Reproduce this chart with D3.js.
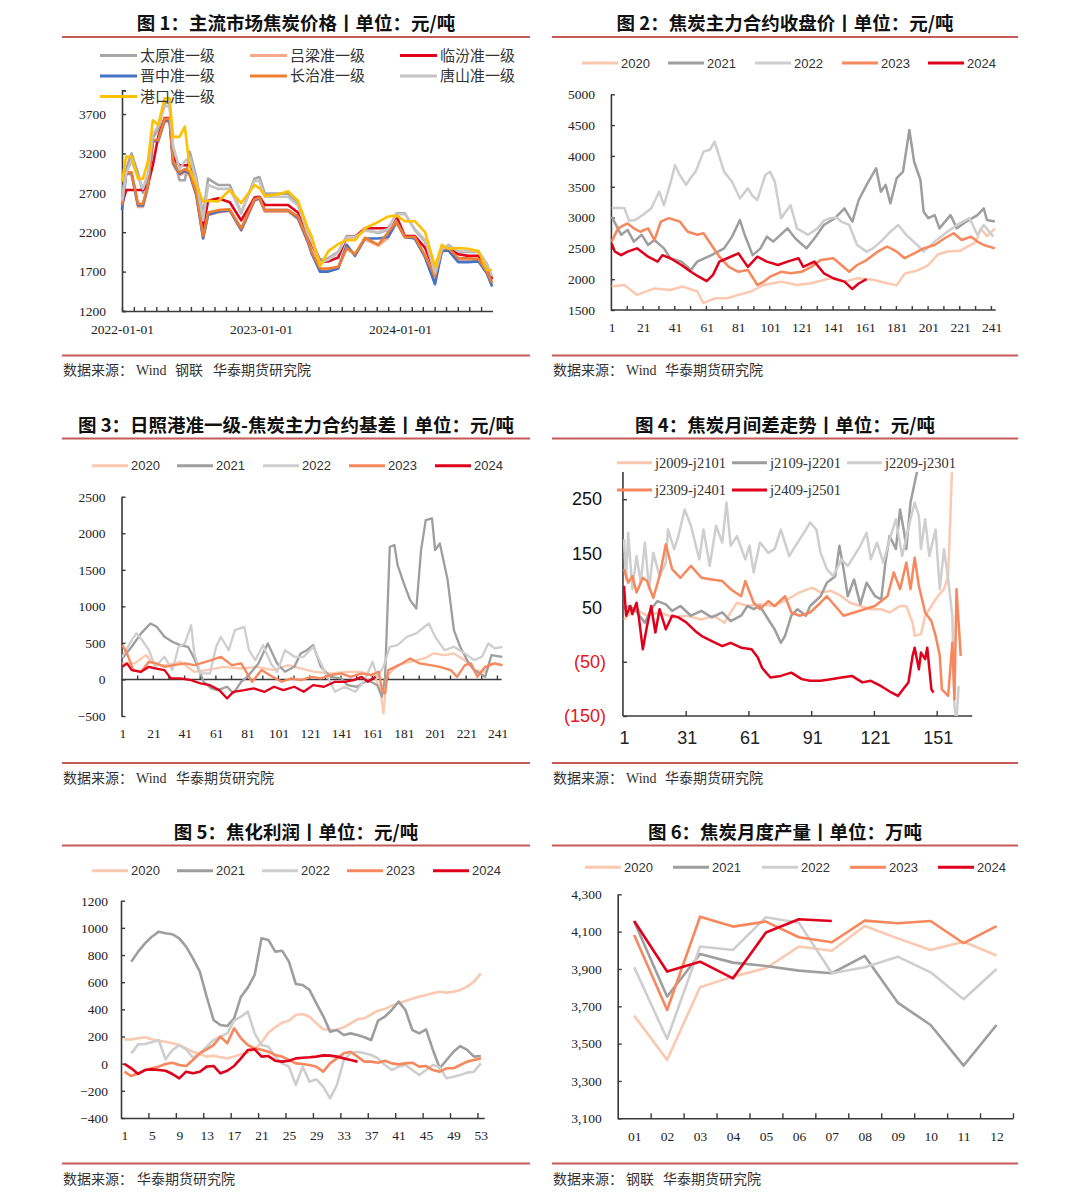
<!DOCTYPE html>
<html>
<head>
<meta charset="utf-8">
<script src="https://cdn.jsdelivr.net/npm/d3@7"></script>
<style>
body { margin: 0; background: #fff; }
svg { display: block; }
</style>
</head>
<body>
<svg id="chart" width="1080" height="1195"></svg>
<script>
// ---------- 图1 主流市场焦炭价格 ----------
const p1Dates = ["2022-01-01","2022-01-12","2022-01-26","2022-02-12","2022-02-25","2022-03-10","2022-03-23","2022-04-06","2022-04-23","2022-05-06",
  "2022-05-15","2022-06-01","2022-06-15","2022-06-28","2022-07-15","2022-08-02","2022-08-15","2022-09-10","2022-10-11","2022-11-10",
  "2022-12-15","2022-12-28","2023-01-11","2023-02-15","2023-03-13","2023-04-08","2023-05-04","2023-05-14","2023-06-05","2023-06-27",
  "2023-07-23","2023-08-14","2023-09-05","2023-10-01","2023-11-05","2023-12-01","2023-12-23","2024-01-14","2024-02-09","2024-03-07",
  "2024-04-02","2024-04-20","2024-05-07","2024-06-02","2024-06-28","2024-07-25","2024-08-16","2024-08-30"]
const p1Names = ["太原准一级","吕梁准一级","临汾准一级","晋中准一级","长治准一级","唐山准一级","港口准一级"]
const p1Taiyuan = [2650,3000,3200,2950,2700,2900,3400,3500,3840,3840, 3200,2860,2860,3220,2900,2420,2880,2800,2800,2440,
  2880,2900, 2690,2690,2690,2560,2200,2100,1850,1870, 1950,2150,2150,2230,2190,2230,2440,2440,2230,2080, 1640,1950,2040,1950,1950,1950,1800,1620]
const p1Lvliang = [2500,2940,2940,2520,2520,2770,3350,3350,3600,3600, 3060,2920,2960,2920,2660,2130,2420,2450,2470,2220,
  2600,2620, 2460,2460,2460,2370,2070,1940,1720,1720, 1760,1990,1920,2110,2030,2130,2320,2130,2130,1900, 1620,1970,1990,1850,1850,1840,1690,1540]
const p1Linfen = [2550,2735,2735,2735,2735,2800,3050,3410,3650,3650, 3150,3050,3050,3050,2800,2250,2600,2630,2580,2350,
  2640,2650, 2545,2545,2545,2450,2150,2050,1830,1830, 1880,2140,2140,2250,2250,2250,2400,2150,2150,2000, 1700,1960,2000,1920,1900,1900,1760,1600]
const p1Jinzhong = [2480,2950,2950,2540,2540,2780,3360,3360,3620,3620, 3080,2940,2980,2940,2680,2120,2420,2460,2480,2230,
  2610,2630, 2480,2480,2480,2380,2080,1930,1700,1700, 1740,2040,1900,2120,2120,2140,2330,2140,2120,1880, 1540,1960,1970,1820,1820,1830,1680,1510]
const p1Changzhi = [2550,2960,2960,2560,2560,2800,3370,3370,3640,3640, 3100,2960,3000,2960,2700,2150,2450,2480,2490,2250,
  2620,2640, 2480,2480,2480,2400,2100,1950,1740,1740, 1760,2000,1920,2130,2040,2200,2335,2140,2140,1900, 1640,1980,2000,1870,1870,1860,1700,1560]
const p1Tangshan = [2600,2950,3100,2900,2750,2950,3450,3550,3800,3800, 3300,3000,3100,3150,2850,2350,2800,2750,2750,2450,
  2850,2850, 2650,2650,2650,2540,2180,2080,1820,1850, 1940,2140,2140,2220,2200,2240,2430,2430,2240,2100, 1680,1990,2030,1960,1960,1960,1790,1640]
const p1Gangkou = [2840,3160,3160,2880,2880,3100,3620,3560,3900,3900, 3410,3410,3540,3000,2800,2590,2600,2590,2735,2570,
  2800,2760, 2660,2680,2720,2600,2250,2150,1770,1960, 2050,2100,2100,2250,2330,2400,2410,2340,2340,2200, 1760,2040,1990,2000,1990,1960,1720,1720]
const p1YTicks = [1200,1700,2200,2700,3200,3700]
const p1XLabels = ["2022-01-01","2023-01-01","2024-01-01"]

// ---------- 年份系列（图2/3/5/6） ----------
const years = ["2020","2021","2022","2023","2024"]

// 图2 焦炭主力合约收盘价 [交易日序号, 价格]
const p2_2020 = [[1,1880],[9,1905],[17,1745],[28,1850],[38,1825],[46,1880],[55,1800],[59,1610],[66,1690],[74,1690],[81,1745],[89,1800],[97,1905],[108,1960],[118,1905],[127,1935],[139,2015],[148,1960],[156,2015],[166,1990],[175,1935],[181,1900],[186,2090],[194,2140],[201,2230],[207,2400],[213,2450],[221,2460],[228,2560],[231,2600],[234,2820],[238,2700],[243,2820]]
const p2_2021 = [[1,3015],[7,2720],[11,2800],[15,2610],[20,2720],[24,2555],[28,2635],[34,2500],[38,2340],[45,2285],[51,2150],[55,2285],[64,2390],[72,2500],[77,2690],[82,2960],[85,2720],[90,2390],[95,2500],[99,2690],[103,2610],[112,2825],[117,2660],[124,2500],[129,2660],[135,2880],[142,2990],[148,3150],[153,2935],[157,3285],[162,3530],[168,3800],[171,3420],[174,3530],[177,3230],[181,3640],[185,3745],[189,4420],[192,3905],[196,3610],[198,3095],[201,2990],[205,3040],[208,2825],[215,3040],[219,2825],[225,2935],[232,3040],[236,3150],[238,2960],[243,2935]]
const p2_2022 = [[1,3150],[5,3160],[9,3150],[12,2950],[16,2960],[21,3050],[26,3150],[31,3420],[34,3200],[38,3550],[41,3850],[44,3690],[48,3530],[51,3650],[54,3745],[59,4070],[63,4100],[66,4230],[69,3990],[72,3745],[77,3580],[82,3310],[87,3475],[90,3350],[93,3285],[98,3690],[101,3745],[104,3580],[108,2990],[111,3100],[114,3200],[118,2825],[125,2720],[131,2825],[135,2950],[139,2990],[143,3000],[146,2935],[151,2880],[156,2555],[162,2447],[166,2500],[171,2610],[177,2770],[182,2880],[187,2720],[194,2555],[198,2447],[205,2610],[213,2770],[219,2880],[227,2990],[232,2720],[236,2880],[242,2690]]
const p2_2023 = [[1,2610],[5,2825],[11,2905],[15,2825],[19,2770],[24,2825],[28,2635],[32,2935],[37,2990],[44,2935],[49,2770],[55,2720],[59,2745],[64,2555],[69,2365],[75,2200],[81,2120],[87,2150],[93,1905],[97,1960],[101,2040],[108,2120],[114,2095],[121,2120],[127,2200],[133,2310],[141,2340],[146,2230],[151,2120],[156,2230],[162,2310],[169,2447],[175,2530],[181,2447],[186,2340],[192,2420],[198,2500],[205,2555],[211,2660],[217,2745],[222,2635],[228,2690],[232,2610],[236,2555],[243,2500]]
const p2_2024 = [[1,2580],[3,2447],[7,2390],[11,2447],[17,2500],[24,2365],[30,2285],[33,2390],[38,2340],[45,2230],[51,2120],[56,2040],[61,1970],[65,2070],[69,2285],[74,2340],[81,2420],[87,2200],[93,2365],[99,2285],[106,2230],[112,2285],[119,2340],[122,2200],[129,2285],[135,2095],[141,2015],[148,1960],[153,1840],[157,1930],[162,2000]]
const p2YTicks = [1500,2000,2500,3000,3500,4000,4500,5000]

// 图3 日照港准一级-焦炭主力合约基差
const p3_2020 = [[1,219],[9,219],[16,333],[22,196],[30,196],[38,242],[47,105],[55,128],[66,173],[77,150],[87,173],[98,128],[107,196],[115,150],[124,105],[134,82],[145,105],[153,105],[162,59],[166,-146],[168,-465],[170,36],[177,196],[185,242],[194,287],[200,356],[207,333],[213,356],[220,264],[226,128],[233,105],[237,219],[244,196]]
const p3_2021 = [[1,287],[7,447],[13,630],[19,766],[23,720],[28,584],[33,515],[38,470],[43,447],[47,287],[50,128],[53,-32],[58,-123],[62,-146],[68,-100],[72,-190],[77,-32],[81,36],[88,219],[94,492],[100,219],[105,105],[111,173],[115,356],[119,400],[123,470],[128,173],[134,36],[141,14],[145,-78],[151,-100],[158,-9],[164,-78],[167,-237],[169,36],[172,1815],[175,1838],[177,1564],[181,1313],[185,1085],[189,971],[192,1769],[195,2180],[199,2202],[201,1769],[204,1860],[209,1359],[213,675],[217,447],[222,242],[226,128],[233,36],[237,333],[244,310]]
const p3_2022 = [[1,310],[7,538],[10,630],[13,560],[18,400],[22,173],[28,310],[33,128],[37,447],[41,492],[45,743],[47,356],[51,82],[57,82],[61,447],[64,584],[69,400],[73,675],[79,720],[82,400],[86,264],[91,470],[96,219],[100,105],[105,400],[111,310],[117,310],[123,447],[130,128],[137,-169],[143,-100],[150,-169],[156,-9],[161,242],[164,36],[168,173],[172,447],[177,470],[183,584],[189,630],[194,720],[197,766],[201,584],[207,400],[213,447],[220,356],[226,264],[231,310],[235,492],[239,424],[244,447]]
const p3_2023 = [[1,470],[4,356],[8,128],[13,105],[18,242],[23,219],[28,173],[34,196],[41,219],[47,196],[51,219],[58,264],[64,310],[71,196],[77,219],[84,-32],[90,128],[97,36],[103,-32],[109,14],[115,-9],[122,36],[128,14],[134,59],[141,82],[147,36],[154,82],[160,59],[165,105],[167,-146],[169,-190],[171,128],[178,196],[185,287],[191,219],[198,196],[204,173],[211,128],[215,36],[220,196],[224,219],[228,36],[233,173],[239,219],[244,196]]
const p3_2024 = [[1,173],[4,219],[7,128],[13,105],[18,173],[22,150],[28,128],[32,14],[38,14],[45,-9],[51,-55],[57,-78],[63,-146],[68,-260],[72,-169],[79,-146],[85,-123],[92,-169],[98,-100],[104,-146],[111,-100],[117,-169],[123,-78],[130,-100],[137,-32],[143,-32],[149,-9],[154,36],[158,-32],[163,36]]
const p3YTicks = [-500,0,500,1000,1500,2000,2500]

// 图4 焦炭月间差走势
const p4Names = ["j2009-j2101","j2109-j2201","j2209-j2301","j2309-j2401","j2409-j2501"]
const p4_2009 = [[1,28],[6,47],[12,35],[18,41],[25,32],[31,35],[38,28],[44,35],[49,22],[52,41],[55,59],[60,53],[66,56],[73,53],[79,65],[85,78],[91,87],[95,78],[100,81],[105,71],[109,59],[114,53],[119,47],[124,47],[128,41],[133,53],[136,53],[139,22],[140,-2],[143,1],[145,35],[148,53],[151,71],[154,84],[156,108],[158,320]]
const p4_2109 = [[1,47],[3,53],[6,47],[11,22],[14,47],[17,62],[21,56],[24,44],[28,53],[33,35],[38,44],[43,32],[48,41],[52,25],[57,35],[60,53],[63,47],[66,53],[70,28],[73,10],[76,-15],[78,-2],[81,35],[84,47],[88,35],[90,53],[95,71],[98,96],[102,108],[104,164],[106,121],[108,71],[111,102],[114,56],[117,96],[121,71],[124,65],[126,133],[128,182],[131,158],[133,231],[135,188],[136,158],[138,244],[141,299],[142,330]]
const p4_2209 = [[1,176],[2,102],[3,188],[5,84],[7,145],[9,96],[11,170],[13,84],[15,151],[18,108],[21,133],[22,194],[25,158],[27,182],[30,231],[33,201],[37,139],[39,194],[42,127],[45,201],[48,170],[50,244],[52,164],[55,182],[59,139],[61,164],[63,115],[66,170],[70,151],[73,158],[76,194],[80,145],[82,158],[87,188],[90,207],[93,194],[95,151],[98,121],[101,108],[105,139],[108,127],[111,145],[114,164],[117,188],[119,139],[122,170],[125,133],[128,176],[131,213],[134,145],[138,213],[140,244],[142,219],[143,158],[145,213],[147,145],[150,194],[152,84],[154,158],[156,102],[158,35],[159,-131],[160,-160],[161,-95]]
const p4_2309 = [[1,121],[3,96],[5,108],[7,78],[10,105],[12,99],[15,68],[18,108],[21,167],[24,121],[28,105],[33,127],[38,105],[43,102],[48,99],[52,84],[57,71],[59,99],[63,59],[66,47],[70,62],[73,53],[78,71],[81,41],[85,35],[90,41],[95,59],[98,71],[102,53],[106,35],[111,41],[116,47],[121,53],[124,62],[127,71],[130,115],[133,84],[136,133],[138,84],[140,142],[142,90],[145,41],[148,25],[150,-2],[152,-39],[153,-101],[156,-113],[158,-15],[159,-119],[160,84],[162,-39]]
const p4_2409 = [[1,90],[2,35],[4,53],[5,38],[7,59],[8,35],[10,-27],[12,16],[14,53],[16,4],[18,47],[21,10],[24,35],[27,32],[31,22],[35,7],[38,-2],[43,-12],[48,-21],[52,-15],[57,-24],[62,-27],[65,-42],[67,-61],[71,-79],[76,-76],[81,-70],[86,-82],[90,-85],[95,-85],[100,-82],[105,-79],[110,-76],[115,-88],[119,-85],[124,-95],[129,-107],[132,-113],[135,-98],[137,-88],[139,-39],[140,-24],[142,-64],[143,-33],[145,-45],[146,-24],[148,-101],[149,-107]]
const p4YTicks = [-150,-50,50,150,250]
const p4XTicks = [1,31,61,91,121,151]

// 图5 焦化利润（周度）
const p5_2020 = [179,179,187,194,179,169,162,150,137,113, 88,71,52,59,47,39,52,69,83,106, 155,228,268,302,317,358,366,346,297,253,
  248,250,268,297,327,334,362,390,403,427, 444,461,479,493,506,518,530,523,530,543, 567,604,665]
const p5_2021 = [null,751,825,886,935,972,960,953,923,862, 776,678,493,322,285,277,334,493,560,653, 923,911,825,832,751,587,579,543,444,351,
  236,248,211,223,211,194,174,317,346,395, 457,395,248,223,253,101,-34,27,88,130, 101,52,56]
const p5_2022 = [null,76,142,145,157,174,32,101,137,106, 44,76,125,174,199,223,317,346,383,223, 137,125,52,2,-22,-157,-22,-133,-115,-169,
  -255,-157,27,76,88,76,64,39,-10,-47, -22,-10,-47,-83,-47,-10,-27,-108,-96,-83, -66,-59,2]
const p5_2023 = [-59,-91,-71,-47,-34,-22,-2,7,-10,-17, 27,76,105,137,199,150,260,187,137,113, 103,88,64,52,27,2,-2,-10,-22,-59,
  2,39,76,88,52,15,15,7,22,2, -5,2,7,-22,-17,-47,-59,-34,-34,-10, 15,27,39]
const p5_2024 = [-2,-34,-76,-47,-42,-47,-52,-76,-108,-59, -71,-59,-22,-17,-71,-52,-17,39,101,106, 52,56,22,15,22,39,44,47,52,61,
  59,52,39,27,15]
const p5YTicks = [-400,-200,0,200,400,600,800,1000,1200]
const p5XLabels = [1,5,9,13,17,21,25,29,33,37,41,45,49,53]

// 图6 焦炭月度产量
const p6Months = ["01","02","03","04","05","06","07","08","09","10","11","12"]
const p6_2020 = [3650,3413,3802,3859,3904,4020,3998,4130,4064,4002,4046,3972]
const p6_2021 = [4154,3752,3980,3934,3916,3891,3877,3970,3720,3600,3382,3600]
const p6_2022 = [3909,3525,4020,4002,4177,4148,3877,3909,3966,3882,3738,3900]
const p6_2023 = [4082,3680,4180,4127,4154,4070,4043,4159,4145,4157,4038,4130]
const p6_2024 = [4157,3886,3939,3850,4095,4166,4157]
const p6YTicks = [3100,3300,3500,3700,3900,4100,4300]

// ---------- drawing ----------
const svg = d3.select("#chart")
const RULE = "#c55a57"
const AX = "#3a3a3a"
const SERIF = "'Liberation Serif','Times New Roman',serif"
const SANS = "'Liberation Sans',Arial,sans-serif"
const CJK = "'Noto Sans CJK SC','Noto Sans',sans-serif"
const yearColors = ["#fbc8b0","#9e9e9e","#cecece","#f7875c","#e0001b"]
const parse = d3.timeParse("%Y-%m-%d")
const plain = d3.format("d")

function frame(x0, x1, yTitle, yTop, yBot, ySrc, title, src) {
  svg.append("text").attr("x", (x0 + x1) / 2).attr("y", yTitle).attr("text-anchor", "middle")
    .attr("font-family", CJK).attr("font-weight", "bold").attr("font-size", 18.5).attr("fill", "#111").text(title)
  svg.append("line").attr("x1", x0).attr("x2", x1).attr("y1", yTop).attr("y2", yTop).attr("stroke", RULE).attr("stroke-width", 2.2)
  svg.append("line").attr("x1", x0).attr("x2", x1).attr("y1", yBot).attr("y2", yBot).attr("stroke", RULE).attr("stroke-width", 2.2)
  src.forEach(s => {
    svg.append("text").attr("x", s[0]).attr("y", ySrc).attr("font-family", s[2] || CJK)
      .attr("font-size", 14).attr("fill", "#333").text(s[1])
  })
}

function styleAxis(g, font, size) {
  g.attr("font-family", font).attr("font-size", size)
  g.select(".domain").attr("stroke", AX).attr("stroke-width", 1.6)
  g.selectAll(".tick line").attr("stroke", AX).attr("stroke-width", 1.4)
  g.selectAll(".tick text").attr("fill", "#222")
}

function drawSeries(x, y, list, width, clip) {
  const line = d3.line().defined(d => d[1] != null).x(d => x(d[0])).y(d => y(d[1]))
  list.forEach(s => {
    svg.append("path").datum(s.data).attr("fill", "none").attr("stroke", s.color)
      .attr("stroke-width", width).attr("stroke-linejoin", "round").attr("d", line)
      .attr("clip-path", clip ? "url(#" + clip + ")" : null)
  })
}

function legend(names, colors, xs, ys, len, font, size) {
  names.forEach((n, i) => {
    svg.append("line").attr("x1", xs[i]).attr("x2", xs[i] + len).attr("y1", ys[i]).attr("y2", ys[i])
      .attr("stroke", colors[i]).attr("stroke-width", 3)
    svg.append("text").attr("x", xs[i] + len + 3).attr("y", ys[i]).attr("dy", "0.35em")
      .attr("font-family", font).attr("font-size", size).attr("fill", "#333").text(n)
  })
}

const defs = svg.append("defs")

// ===== 图1 =====
frame(62, 530, 29.5, 37, 355.5, 375, "图 1：主流市场焦炭价格丨单位：元/吨",
  [[63, "数据来源："], [136, "Wind", SERIF], [175, "钢联"], [213, "华泰期货研究院"]])
{
  const x = d3.scaleTime().domain([parse("2022-01-01"), parse("2024-08-31")]).range([122, 492.5])
  const y = d3.scaleLinear().domain([1200, 4000]).range([311, 90.4])
  const gy = svg.append("g").attr("transform", "translate(122,0)")
    .call(d3.axisLeft(y).tickValues(p1YTicks).tickSize(-4).tickSizeOuter(-4).tickPadding(16).tickFormat(plain))
  styleAxis(gy, SERIF, 13.5)
  const gx = svg.append("g").attr("transform", "translate(0,311)")
    .call(d3.axisBottom(x).tickValues(d3.timeMonth.range(parse("2022-01-01"), parse("2024-09-01"))).tickSize(-4).tickSizeOuter(0).tickFormat(""))
  styleAxis(gx, SERIF, 13.5)
  const gl = svg.append("g").attr("transform", "translate(0,311)")
    .call(d3.axisBottom(x).tickValues(p1XLabels.map(parse)).tickSize(0).tickPadding(13).tickFormat(d3.timeFormat("%Y-%m-%d")))
  styleAxis(gl, SERIF, 13.5)
  gl.select(".domain").remove()

  const colors = ["#a6a6a6","#f9a88d","#e3001b","#4472c4","#ed7d31","#c4c4c4","#ffc000"]
  const vals = [p1Taiyuan, p1Lvliang, p1Linfen, p1Jinzhong, p1Changzhi, p1Tangshan, p1Gangkou]
  drawSeries(x, y, vals.map((v, i) => ({ color: colors[i], data: p1Dates.map((d, k) => [parse(d), v[k]]) })), 2.6)
  legend(p1Names, colors, [100, 250, 400, 100, 250, 400, 100], [55.5, 55.5, 55.5, 76, 76, 76, 96.5], 37, CJK, 15)
}

// ===== 图2 =====
frame(552, 1018, 29.5, 37, 355.5, 375, "图 2：焦炭主力合约收盘价丨单位：元/吨",
  [[553, "数据来源："], [626, "Wind", SERIF], [665, "华泰期货研究院"]])
{
  const x = d3.scaleLinear().domain([1, 241]).range([611.7, 991.7])
  const y = d3.scaleLinear().domain([1500, 5000]).range([310, 94.3])
  const gy = svg.append("g").attr("transform", "translate(" + x(0.5) + ",0)")
    .call(d3.axisLeft(y).tickValues(p2YTicks).tickSize(-4).tickSizeOuter(0).tickPadding(16).tickFormat(plain))
  styleAxis(gy, SERIF, 13.5)
  const gx = svg.append("g").attr("transform", "translate(0,310)")
    .call(d3.axisBottom(x).tickValues(d3.range(10.5, 243, 10)).tickSize(-4).tickSizeOuter(0).tickFormat(""))
  gx.select(".domain").attr("d", "M" + x(0.5) + ",0H" + x(243.5))
  styleAxis(gx, SERIF, 13.5)
  const gl = svg.append("g").attr("transform", "translate(0,310)")
    .call(d3.axisBottom(x).tickValues(d3.range(1, 242, 20)).tickSize(0).tickPadding(12).tickFormat(plain))
  styleAxis(gl, SERIF, 13.5)
  gl.select(".domain").remove()
  const data = [p2_2020, p2_2021, p2_2022, p2_2023, p2_2024]
  drawSeries(x, y, data.map((d, i) => ({ color: yearColors[i], data: d })), 2.5)
  legend(years, yearColors, [582, 668, 755, 842, 928], [63, 63, 63, 63, 63], 36, SANS, 13)
}

// ===== 图3 =====
frame(62, 530, 431.5, 438.5, 763, 782.5, "图 3：日照港准一级-焦炭主力合约基差丨单位：元/吨",
  [[63, "数据来源："], [136, "Wind", SERIF], [176, "华泰期货研究院"]])
{
  const x = d3.scaleLinear().domain([1, 241]).range([122.3, 497.7])
  const y = d3.scaleLinear().domain([-500, 2500]).range([716, 496.7])
  const gy = svg.append("g").attr("transform", "translate(" + x(0.5) + ",0)")
    .call(d3.axisLeft(y).tickValues(p3YTicks).tickSize(-4).tickSizeOuter(0).tickPadding(16).tickFormat(plain))
  styleAxis(gy, SERIF, 13.5)
  const gx = svg.append("g").attr("transform", "translate(0," + y(0) + ")")
    .call(d3.axisBottom(x).tickValues(d3.range(10.5, 243, 10)).tickSize(-4).tickSizeOuter(0).tickFormat(""))
  gx.select(".domain").attr("d", "M" + x(0.5) + ",0H" + x(243.5))
  styleAxis(gx, SERIF, 13.5)
  const gl = svg.append("g").attr("transform", "translate(0,716)")
    .call(d3.axisBottom(x).tickValues(d3.range(1, 242, 20)).tickSize(0).tickPadding(12.5).tickFormat(plain))
  styleAxis(gl, SERIF, 13.5)
  gl.select(".domain").remove()
  const data = [p3_2020, p3_2021, p3_2022, p3_2023, p3_2024]
  drawSeries(x, y, data.map((d, i) => ({ color: yearColors[i], data: d })), 2.3)
  legend(years, yearColors, [92, 177, 263, 349, 435], [465.7, 465.7, 465.7, 465.7, 465.7], 36, SANS, 13)
}

// ===== 图4 =====
frame(552, 1018, 431.5, 438.5, 763, 782.5, "图 4：焦炭月间差走势丨单位：元/吨",
  [[553, "数据来源："], [626, "Wind", SERIF], [665, "华泰期货研究院"]])
{
  const x = d3.scaleLinear().domain([1, 151]).range([624, 937.7])
  const y = d3.scaleLinear().domain([-150, 250]).range([716, 499.2])
  defs.append("clipPath").attr("id", "clip4").append("rect")
    .attr("x", x(0.5)).attr("y", y(300)).attr("width", x(167.5) - x(0.5)).attr("height", y(-150) - y(300))
  const gy = svg.append("g").attr("transform", "translate(" + x(0.5) + ",0)")
    .call(d3.axisLeft(y).tickValues(p4YTicks).tickSize(-4).tickSizeOuter(0).tickPadding(17)
      .tickFormat(v => v < 0 ? "(" + (-v) + ")" : String(v)))
  gy.select(".domain").attr("d", "M0," + y(300) + "V" + y(-150))
  styleAxis(gy, SANS, 18)
  gy.selectAll(".tick text").attr("fill", d => d < 0 ? "#e8141c" : "#111").attr("dx", d => d < 0 ? 0 : -4)
  const gx = svg.append("g").attr("transform", "translate(0,716)")
    .call(d3.axisBottom(x).tickValues(p4XTicks.slice(1).map(v => v - 0.5)).tickSize(-5).tickSizeOuter(0).tickFormat(""))
  gx.select(".domain").attr("d", "M" + x(0.5) + ",0H" + x(167.5))
  styleAxis(gx, SANS, 18)
  const gl = svg.append("g").attr("transform", "translate(0,716)")
    .call(d3.axisBottom(x).tickValues(p4XTicks).tickSize(0).tickPadding(15).tickFormat(plain))
  styleAxis(gl, SANS, 18)
  gl.select(".domain").remove()
  const colors = ["#fbc8b0","#9e9e9e","#cecece","#f7875c","#e0001b"]
  const data = [p4_2009, p4_2109, p4_2209, p4_2309, p4_2409]
  drawSeries(x, y, data.map((d, i) => ({ color: colors[i], data: d })), 2.5, "clip4")
  legend(p4Names, colors, [617, 732, 847, 617, 732], [462.7, 462.7, 462.7, 490, 490], 35, SERIF, 14.5)
}

// ===== 图5 =====
frame(62, 530, 839, 845.5, 1163.5, 1184, "图 5：焦化利润丨单位：元/吨",
  [[63, "数据来源："], [137, "华泰期货研究院"]])
{
  const x = d3.scaleLinear().domain([0.5, 53.5]).range([121, 484.3])
  const y = d3.scaleLinear().domain([-400, 1200]).range([1118, 900.7])
  const gy = svg.append("g").attr("transform", "translate(121,0)")
    .call(d3.axisLeft(y).tickValues(p5YTicks).tickSize(-4).tickSizeOuter(0).tickPadding(13).tickFormat(plain))
  styleAxis(gy, SERIF, 13.5)
  const gx = svg.append("g").attr("transform", "translate(0,1118)")
    .call(d3.axisBottom(x).tickValues(d3.range(4.5, 53, 4)).tickSize(-5).tickSizeOuter(0).tickFormat(""))
  styleAxis(gx, SERIF, 13.5)
  const gl = svg.append("g").attr("transform", "translate(0,1118)")
    .call(d3.axisBottom(x).tickValues(p5XLabels).tickSize(0).tickPadding(12).tickFormat(plain))
  styleAxis(gl, SERIF, 13.5)
  gl.select(".domain").remove()
  const data = [p5_2020, p5_2021, p5_2022, p5_2023, p5_2024]
  drawSeries(x, y, data.map((d, i) => ({ color: yearColors[i], data: d.map((v, k) => [k + 1, v]) })), 2.6)
  legend(years, yearColors, [92, 177, 262, 347, 433], [870.7, 870.7, 870.7, 870.7, 870.7], 36, SANS, 13)
}

// ===== 图6 =====
frame(552, 1018, 839, 845.5, 1163.5, 1184, "图 6：焦炭月度产量丨单位：万吨",
  [[553, "数据来源："], [626, "钢联"], [663, "华泰期货研究院"]])
{
  const x = d3.scaleLinear().domain([0.5, 12.5]).range([617.7, 1013])
  const y = d3.scaleLinear().domain([3100, 4300]).range([1118.3, 894.3])
  const gy = svg.append("g").attr("transform", "translate(617.7,0)")
    .call(d3.axisLeft(y).tickValues(p6YTicks).tickSize(-4).tickSizeOuter(0).tickPadding(16).tickFormat(d3.format(",")))
  styleAxis(gy, SERIF, 13.5)
  const gx = svg.append("g").attr("transform", "translate(0,1118.3)")
    .call(d3.axisBottom(x).tickValues(d3.range(1.5, 13, 1)).tickSize(-5).tickSizeOuter(0).tickFormat(""))
  styleAxis(gx, SERIF, 13.5)
  const gl = svg.append("g").attr("transform", "translate(0,1118.3)")
    .call(d3.axisBottom(x).tickValues(d3.range(1, 13)).tickSize(0).tickPadding(13).tickFormat(d => p6Months[d - 1]))
  styleAxis(gl, SERIF, 13.5)
  gl.select(".domain").remove()
  const data = [p6_2020, p6_2021, p6_2022, p6_2023, p6_2024]
  drawSeries(x, y, data.map((d, i) => ({ color: yearColors[i], data: d.map((v, k) => [k + 1, v]) })), 2.6)
  legend(years, yearColors, [585, 673, 762, 850, 938], [867.3, 867.3, 867.3, 867.3, 867.3], 36, SANS, 13)
}
</script>
</body>
</html>
